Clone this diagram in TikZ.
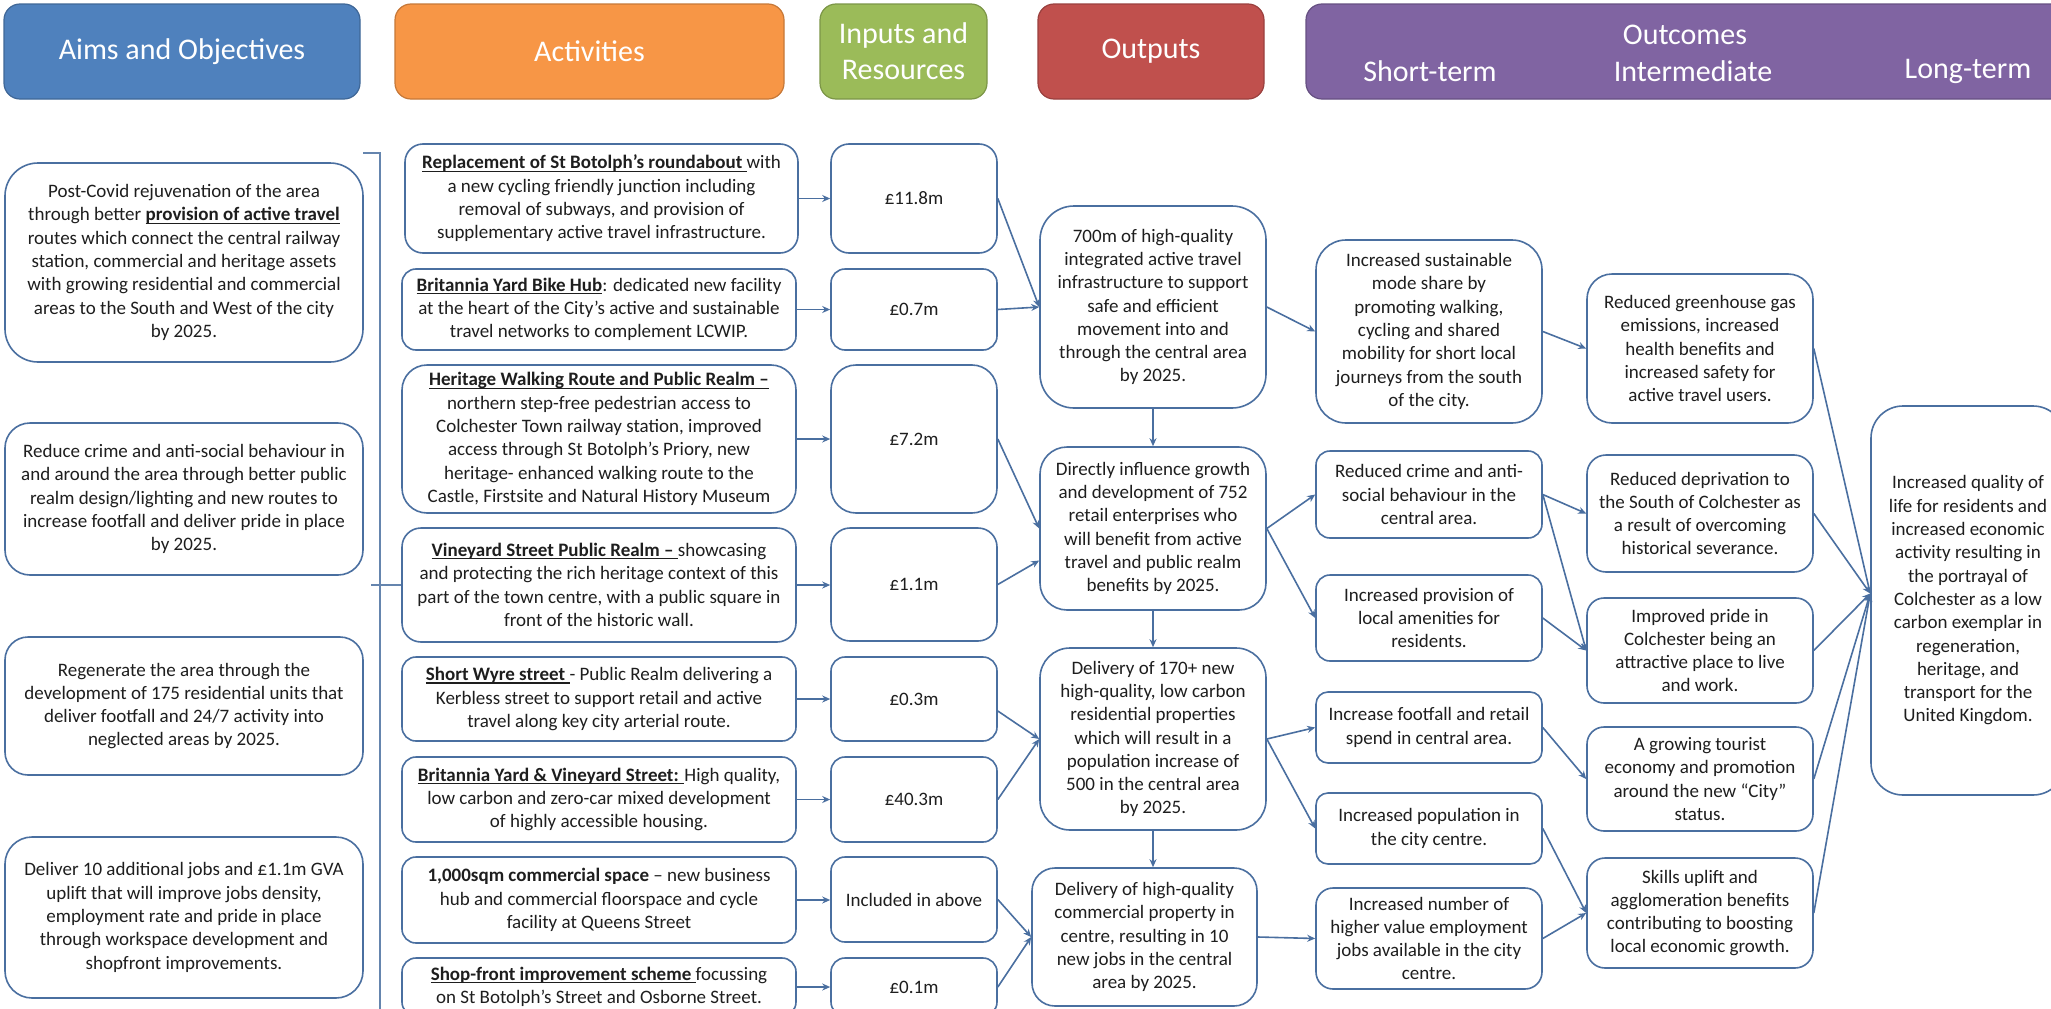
\documentclass[tikz,border=0pt]{standalone}
\usepackage{fontspec}
\setmainfont{Carlito}
\usetikzlibrary{arrows.meta,calc}
\definecolor{lc}{HTML}{4A6FA0}
\definecolor{txt}{HTML}{1E1E1E}
\definecolor{cA}{HTML}{4F81BD}
\definecolor{cC}{HTML}{F79646}
\definecolor{cI}{HTML}{9BBB59}
\definecolor{cO}{HTML}{C0504D}
\definecolor{cU}{HTML}{8064A2}
\newcommand{\ulbx}[1]{\setbox0=\hbox{#1}\rlap{\rule[-2.8pt]{\wd0}{1.1pt}}\box0}
\tikzset{
  bx/.style={draw=lc, line width=1.6pt, fill=white, rounded corners=#1, align=center, inner sep=0pt, text=txt, font=\fontsize{19}{23.3}\selectfont},
  hd/.style={fill=#1, draw=#1!80!black, line width=1.2pt, rounded corners=16pt, inner sep=0pt},
  htx/.style={text=white, font=\fontsize{30}{36}\selectfont, align=center, inner sep=0pt},
  arr/.style={draw=lc, line width=1.6pt, -{Stealth[length=8pt,width=7pt]}},
  brk/.style={draw=lc!85!white, line width=1.4pt},
}
\begin{document}
\begin{tikzpicture}[x=1pt,y=-1pt]
\useasboundingbox[fill=white] (0,0) rectangle (2051,1009);

% ---------------- headers
\node[hd=cA, htx, minimum width=356pt, minimum height=95pt] (hA) at (182,51.5) {Aims and Objectives};
\node[hd=cC, htx, minimum width=389pt, minimum height=95pt] (hC) at (589.5,51.5) {Activities};
\node[hd=cI, htx, minimum width=167pt, minimum height=95pt] (hI) at (903.5,51.5) {Inputs and\\Resources};
\node[hd=cO, htx, minimum width=226pt, minimum height=95pt] (hO) at (1151,51.5) {Outputs};
\node[hd=cU, minimum width=760pt, minimum height=95pt] (hU) at (1686,51.5) {};
\node[htx] (hU0) at (1685,35) {Outcomes};
\node[htx] (hU1) at (1430,71) {Short-term};
\node[htx] (hU2) at (1693,71) {Intermediate};
\node[htx] (hU3) at (1968,71) {Long-term};

% ---------------- aims and objectives
\node[bx=33pt, minimum width=358pt, minimum height=199pt] (A1) at (184,262.5) {Post-Covid rejuvenation of the area\\through better \ulbx{\textbf{provision of active travel}}\\routes which connect the central railway\\station, commercial and heritage assets\\with growing residential and commercial\\areas to the South and West of the city\\by 2025.};
\node[bx=25pt, minimum width=358pt, minimum height=152pt] (A2) at (184,499) {Reduce crime and anti-social behaviour in\\and around the area through better public\\realm design/lighting and new routes to\\increase footfall and deliver pride in place\\by 2025.};
\node[bx=23pt, minimum width=358pt, minimum height=138pt] (A3) at (184,706) {Regenerate the area through the\\development of 175 residential units that\\deliver footfall and 24/7 activity into\\neglected areas by 2025.};
\node[bx=27pt, minimum width=358pt, minimum height=161pt] (A4) at (184,917.5) {Deliver 10 additional jobs and £1.1m GVA\\uplift that will improve jobs density,\\employment rate and pride in place\\through workspace development and\\shopfront improvements.};

% ---------------- activities
\node[bx=18pt, minimum width=393pt, minimum height=109pt] (C1) at (601.5,198.5) {\ulbx{\textbf{Replacement of St Botolph’s roundabout }}with\\a new cycling friendly junction including\\removal of subways, and provision of\\supplementary active travel infrastructure.};
\node[bx=14pt, minimum width=394pt, minimum height=81pt] (C2) at (599,309.5) {\ulbx{\textbf{Britannia Yard Bike Hub}}: dedicated new facility\\at the heart of the City’s active and sustainable\\travel networks to complement LCWIP.};
\node[bx=25pt, minimum width=394pt, minimum height=148pt] (C3) at (599,439) {\ulbx{\textbf{Heritage Walking Route and Public Realm –}}\\northern step-free pedestrian access to\\Colchester Town railway station, improved\\access through St Botolph’s Priory, new\\heritage- enhanced walking route to the\\Castle, Firstsite and Natural History Museum};
\node[bx=19pt, minimum width=394pt, minimum height=114pt] (C4) at (599,585) {\ulbx{\textbf{Vineyard Street Public Realm – }}showcasing\\and protecting the rich heritage context of this\\part of the town centre, with a public square in\\front of the historic wall.};
\node[bx=14pt, minimum width=394pt, minimum height=84pt] (C5) at (599,699) {\ulbx{\textbf{Short Wyre street }}- Public Realm delivering a\\Kerbless street to support retail and active\\travel along key city arterial route.};
\node[bx=14pt, minimum width=394pt, minimum height=85pt] (C6) at (599,799.5) {\ulbx{\textbf{Britannia Yard \& Vineyard Street: }}High quality,\\low carbon and zero-car mixed development\\of highly accessible housing.};
\node[bx=14pt, minimum width=394pt, minimum height=86pt] (C7) at (599,900) {\textbf{1,000sqm commercial space} – new business\\hub and commercial floorspace and cycle\\facility at Queens Street};
\node[bx=14pt, minimum width=394pt, minimum height=58pt] (C8) at (599,987) {\ulbx{\textbf{Shop-front improvement scheme }}focussing\\on St Botolph’s Street and Osborne Street.};

% bracket
\coordinate (bt0) at (363,153);
\coordinate (bt1) at (380,153);
\coordinate (bt2) at (380,1020);
\draw[brk] (bt0) -- (bt1) -- (bt2);
\draw[brk] (C4.west) -- ++(-30,0);

% ---------------- inputs
\node[bx=18pt, minimum width=166pt, minimum height=109pt] (I1) at (914,198.5) {£11.8m};
\node[bx=14pt, minimum width=166pt, minimum height=81pt] (I2) at (914,309.5) {£0.7m};
\node[bx=25pt, minimum width=166pt, minimum height=148pt] (I3) at (914,439) {£7.2m};
\node[bx=19pt, minimum width=166pt, minimum height=113pt] (I4) at (914,584.5) {£1.1m};
\node[bx=14pt, minimum width=166pt, minimum height=84pt] (I5) at (914,699) {£0.3m};
\node[bx=14pt, minimum width=166pt, minimum height=85pt] (I6) at (914,799.5) {£40.3m};
\node[bx=14pt, minimum width=166pt, minimum height=85pt] (I7) at (914,899.5) {Included in above};
\node[bx=14pt, minimum width=166pt, minimum height=58pt] (I8) at (914,987) {£0.1m};

% ---------------- outputs
\node[bx=34pt, minimum width=226pt, minimum height=202pt] (O1) at (1153,307) {700m of high-quality\\integrated active travel\\infrastructure to support\\safe and efficient\\movement into and\\through the central area\\by 2025.};
\node[bx=27pt, minimum width=226pt, minimum height=163pt] (O2) at (1153,528.5) {Directly influence growth\\and development of 752\\retail enterprises who\\will benefit from active\\travel and public realm\\benefits by 2025.};
\node[bx=30pt, minimum width=226pt, minimum height=182pt] (O3) at (1153,739) {Delivery of 170+ new\\high-quality, low carbon\\residential properties\\which will result in a\\population increase of\\500 in the central area\\by 2025.};
\node[bx=23pt, minimum width=225pt, minimum height=138pt] (O4) at (1144.5,937) {Delivery of high-quality\\commercial property in\\centre, resulting in 10\\new jobs in the central\\area by 2025.};

% ---------------- short-term outcomes
\node[bx=30pt, minimum width=226pt, minimum height=183pt] (S1) at (1429,331.5) {Increased sustainable\\mode share by\\promoting walking,\\cycling and shared\\mobility for short local\\journeys from the south\\of the city.};
\node[bx=14pt, minimum width=226pt, minimum height=87pt] (S2) at (1429,494.5) {Reduced crime and anti-\\social behaviour in the\\central area.};
\node[bx=14pt, minimum width=226pt, minimum height=86pt] (S3) at (1429,618) {Increased provision of\\local amenities for\\residents.};
\node[bx=12pt, minimum width=226pt, minimum height=71pt] (S4) at (1429,727.5) {Increase footfall and retail\\spend in central area.};
\node[bx=12pt, minimum width=226pt, minimum height=71pt] (S5) at (1429,828.5) {Increased population in\\the city centre.};
\node[bx=17pt, minimum width=226pt, minimum height=101pt] (S6) at (1429,938.5) {Increased number of\\higher value employment\\jobs available in the city\\centre.};

% ---------------- intermediate outcomes
\node[bx=25pt, minimum width=226pt, minimum height=149pt] (M1) at (1700,348.5) {Reduced greenhouse gas\\emissions, increased\\health benefits and\\increased safety for\\active travel users.};
\node[bx=19pt, minimum width=226pt, minimum height=117pt] (M2) at (1700,513.5) {Reduced deprivation to\\the South of Colchester as\\a result of overcoming\\historical severance.};
\node[bx=17pt, minimum width=226pt, minimum height=105pt] (M3) at (1700,650.5) {Improved pride in\\Colchester being an\\attractive place to live\\and work.};
\node[bx=17pt, minimum width=226pt, minimum height=104pt] (M4) at (1700,779) {A growing tourist\\economy and promotion\\around the new “City”\\status.};
\node[bx=18pt, minimum width=226pt, minimum height=110pt] (M5) at (1700,913) {Skills uplift and\\agglomeration benefits\\contributing to boosting\\local economic growth.};

% ---------------- long-term outcome
\node[bx=32pt, minimum width=194pt, minimum height=389pt] (LT) at (1968,600.5) {Increased quality of\\life for residents and\\increased economic\\activity resulting in\\the portrayal of\\Colchester as a low\\carbon exemplar in\\regeneration,\\heritage, and\\transport for the\\United Kingdom.};
\coordinate (ltin) at ($(LT.west)+(0,-7)$);

% ---------------- connectors: activities -> inputs
\foreach \i in {1,...,8} {
  \draw[arr] (C\i.east) -- (C\i.east -| I\i.west);
}

% inputs -> outputs
\draw[arr] (I1.east) -- (O1.west);
\draw[arr] (I2.east) -- (O1.west);
\draw[arr] (I3.east) -- (O2.west);
\draw[arr] (I4.east) -- ($(O2.west)+(0,32)$);
\draw[arr] ($(I5.east)+(0,12)$) -- (O3.west);
\draw[arr] (I6.east) -- (O3.west);
\draw[arr] (I7.east) -- (O4.west);
\draw[arr] (I8.east) -- (O4.west);

% outputs chain
\draw[arr] (O1.south) -- (O2.north);
\draw[arr] (O2.south) -- (O3.north);
\draw[arr] (O3.south) -- (O3.south |- O4.north);

% outputs -> short-term
\draw[arr] (O1.east) -- (S1.west);
\draw[arr] (O2.east) -- (S2.west);
\draw[arr] (O2.east) -- (S3.west);
\draw[arr] (O3.east) -- (S4.west);
\draw[arr] (O3.east) -- (S5.west);
\draw[arr] (O4.east) -- (S6.west);

% short-term -> intermediate
\draw[arr] (S1.east) -- (M1.west);
\draw[arr] (S2.east) -- (M2.west);
\draw[arr] (S2.east) -- (M3.west);
\draw[arr] (S3.east) -- (M3.west);
\draw[arr] (S4.east) -- (M4.west);
\draw[arr] (S5.east) -- (M5.west);
\draw[arr] (S6.east) -- (M5.west);

% intermediate -> long-term
\foreach \i in {1,...,5} {
  \draw[arr] (M\i.east) -- (ltin);
}
\end{tikzpicture}
\end{document}
